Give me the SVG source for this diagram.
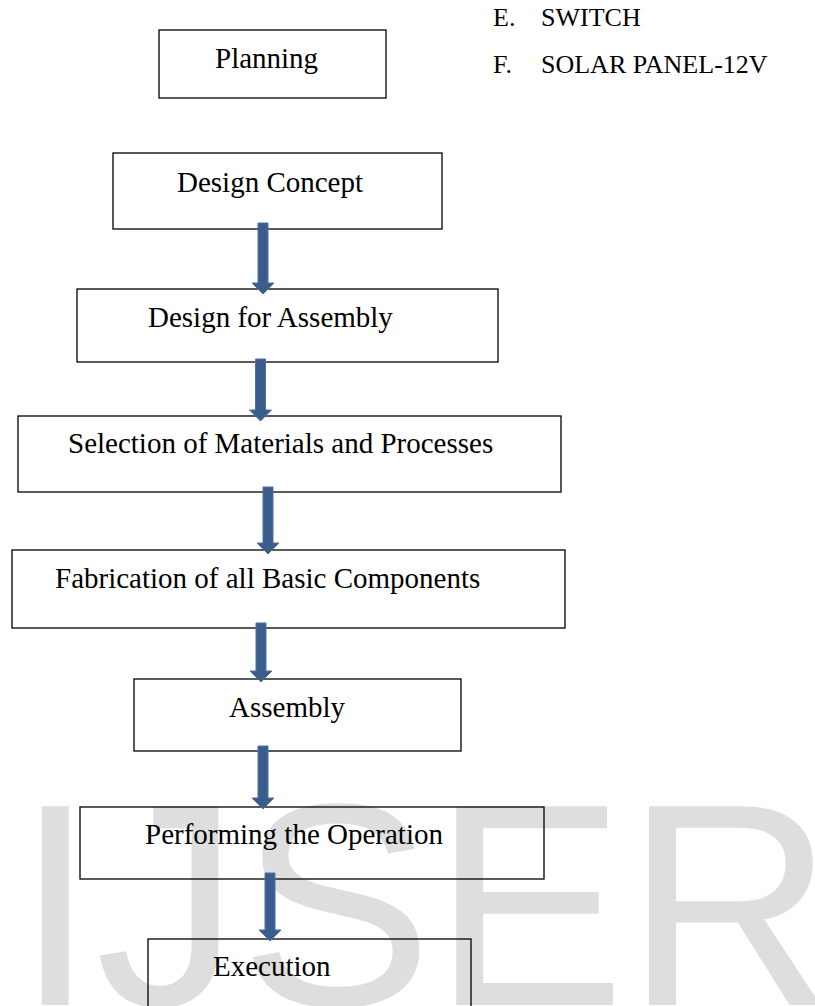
<svg xmlns="http://www.w3.org/2000/svg" width="815" height="1006" viewBox="0 0 815 1006">
<style>
.box{fill:none;stroke:#000;stroke-width:1.3}
.t{font-family:"Liberation Serif","Times New Roman",serif;font-size:29px;fill:#000}
.s{font-family:"Liberation Serif","Times New Roman",serif;font-size:26px;fill:#000}
.arr{fill:#3a5d8c;stroke:#4d72a3;stroke-width:1}
.wm{font-family:"Liberation Sans",Arial,sans-serif;font-size:289px;fill:#dedede}
</style>
<rect width="815" height="1006" fill="#fff"/>
<text class="wm" x="15" y="1005">IJSER</text>
<g id="list">
<text class="s" x="493" y="26">E.</text><text class="s" x="541" y="26">SWITCH</text>
<text class="s" x="493" y="73">F.</text><text class="s" x="541" y="73">SOLAR PANEL-12V</text>
</g>
<g id="n-planning"><rect class="box" x="159" y="30" width="227" height="68"/><text class="t" x="215" y="68">Planning</text></g>
<g id="n-concept"><rect class="box" x="113" y="153" width="329" height="76"/><text class="t" x="177" y="192">Design Concept</text></g>
<g id="n-dfa"><rect class="box" x="77" y="289" width="421" height="73"/><text class="t" x="148" y="327">Design for Assembly</text></g>
<g id="n-selection"><rect class="box" x="18" y="416" width="543" height="76"/><text class="t" x="68" y="453">Selection of Materials and Processes</text></g>
<g id="n-fabrication"><rect class="box" x="12" y="550" width="553" height="78"/><text class="t" x="55" y="588">Fabrication of all Basic Components</text></g>
<g id="n-assembly"><rect class="box" x="134" y="679" width="327" height="72"/><text class="t" x="229" y="717">Assembly</text></g>
<g id="n-performing"><rect class="box" x="80" y="807" width="464" height="72"/><text class="t" x="145" y="844">Performing the Operation</text></g>
<g id="n-execution"><rect class="box" x="148" y="939" width="323" height="80"/><text class="t" x="213" y="976">Execution</text></g>
<g id="connectors">
<polygon class="arr" points="258,223 268,223 268,283 274,283 263,294 252,283 258,283"/>
<polygon class="arr" points="255.5,359 265.5,359 265.5,410 271.5,410 260.5,421 249.5,410 255.5,410"/>
<polygon class="arr" points="263,487 273,487 273,543 279,543 268,554 257,543 263,543"/>
<polygon class="arr" points="256,623 266,623 266,671 272,671 261,682 250,671 256,671"/>
<polygon class="arr" points="258,746 268,746 268,798 274,798 263,809 252,798 258,798"/>
<polygon class="arr" points="265,873 275,873 275,930 281,930 270,941 259,930 265,930"/>
</g>
</svg>
